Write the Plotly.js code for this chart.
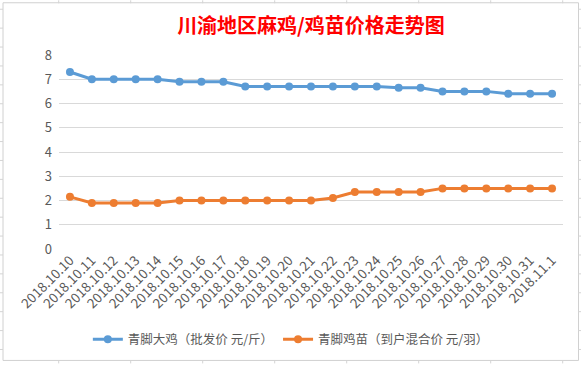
<!DOCTYPE html>
<html>
<head>
<meta charset="utf-8">
<script src="https://cdn.plot.ly/plotly-3.0.1.min.js"></script>
<style>html,body{margin:0;padding:0;background:#fff;}#chart{width:581px;height:365px;}</style>
</head>
<body>
<div id="chart"></div>
<script>
const dates = ["2018.10.10","2018.10.11","2018.10.12","2018.10.13","2018.10.14","2018.10.15","2018.10.16","2018.10.17","2018.10.18","2018.10.19","2018.10.20","2018.10.21","2018.10.22","2018.10.23","2018.10.24","2018.10.25","2018.10.26","2018.10.27","2018.10.28","2018.10.29","2018.10.30","2018.10.31","2018.11.1"];
const bigChicken = [7.3,7.0,7.0,7.0,7.0,6.9,6.9,6.9,6.7,6.7,6.7,6.7,6.7,6.7,6.7,6.65,6.65,6.5,6.5,6.5,6.4,6.4,6.4];
const chicks = [2.15,1.9,1.9,1.9,1.9,2.0,2.0,2.0,2.0,2.0,2.0,2.0,2.1,2.35,2.35,2.35,2.35,2.5,2.5,2.5,2.5,2.5,2.5];
const seriesNames = ["青脚大鸡（批发价 元/斤）","青脚鸡苗（到户混合价 元/羽）"];
const titleText = "川渝地区麻鸡/鸡苗价格走势图";

const font = "'Microsoft YaHei','Noto Sans CJK SC','Noto Sans',sans-serif";
const traces = [
  {x: dates, y: bigChicken, name: seriesNames[0], type: 'scatter', mode: 'lines+markers',
   line: {color: '#5B9BD5', width: 3}, marker: {color: '#5B9BD5', size: 8}},
  {x: dates, y: chicks, name: seriesNames[1], type: 'scatter', mode: 'lines+markers',
   line: {color: '#ED7D31', width: 3}, marker: {color: '#ED7D31', size: 8}}
];

// Excel sheet cell lines outside chart border
const shapes = [];
const g = '#d4d4d4';
for (let k = 0; k < 8; k++) {
  const x = 58.7 + 72 * k;
  shapes.push({type:'line', xref:'paper', yref:'paper', x0:(x-59)/504, x1:(x-59)/504, y0:(250-0)/195, y1:(250-3)/195, line:{color:g,width:1}});
  shapes.push({type:'line', xref:'paper', yref:'paper', x0:(x-59)/504, x1:(x-59)/504, y0:(250-362)/195, y1:(250-365)/195, line:{color:g,width:1}});
}
for (let k = 0; k < 19; k++) {
  const y = 9 + 19 * k;
  shapes.push({type:'line', xref:'paper', yref:'paper', x0:(0-59)/504, x1:(3-59)/504, y0:(250-y)/195, y1:(250-y)/195, line:{color:g,width:1}});
  shapes.push({type:'line', xref:'paper', yref:'paper', x0:(578-59)/504, x1:(581-59)/504, y0:(250-y)/195, y1:(250-y)/195, line:{color:g,width:1}});
}
// chart border
shapes.push({type:'rect', xref:'paper', yref:'paper', x0:(3-59)/504, x1:(578.5-59)/504, y0:(250-2.5)/195, y1:(250-362)/195, line:{color:'#d0d0d0', width:1}, fillcolor:'rgba(0,0,0,0)', layer:'below'});

const layout = {
  width: 581, height: 365,
  margin: {l: 59, r: 18, t: 55, b: 115},
  paper_bgcolor: '#fff', plot_bgcolor: '#fff',
  title: {text: titleText, font: {family: font, size: 20, color: '#FF0000', weight: 'bold'}, x: 0.5, xanchor: 'center', y: 0.93, yanchor: 'middle', xref: 'paper'},
  xaxis: {
    type: 'category', range: [-0.5, 22.5], showgrid: false, zeroline: false,
    showline: false, ticks: '', tickangle: -45,
    tickfont: {family: font, size: 13.5, color: '#595959'}
  },
  yaxis: {
    range: [0, 8], dtick: 1, showgrid: true, gridcolor: '#d9d9d9', gridwidth: 1,
    zeroline: false, showline: false, ticks: '',
    tickfont: {family: font, size: 13, color: '#595959'}, ticklabelstandoff: 6
  },
  showlegend: true,
  legend: {orientation: 'h', x: 0.46, xanchor: 'center', y: -0.46, yanchor: 'middle',
    font: {family: font, size: 12.5, color: '#595959'}, itemwidth: 30, traceorder: 'normal'},
  shapes: shapes,
  hovermode: false
};
Plotly.newPlot('chart', traces, layout, {displayModeBar: false, staticPlot: true});
</script>
</body>
</html>
